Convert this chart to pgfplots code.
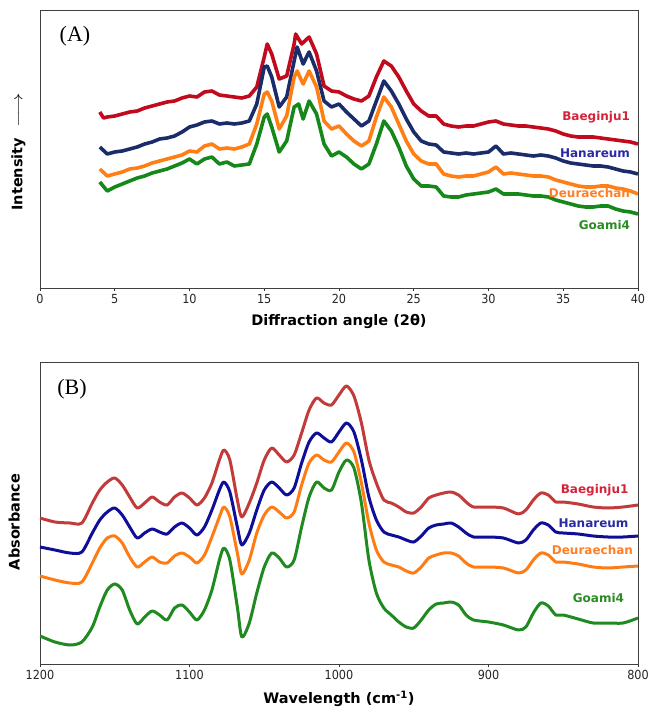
\documentclass[border=0pt]{standalone}
\usepackage{fontspec}
\setmainfont{DejaVu Sans}
\newfontfamily\condfont{DejaVu Sans Condensed}
\newfontfamily\timesfont{Liberation Serif}
\usepackage{pgfplots}
\pgfplotsset{compat=1.18}

\definecolor{redA}{HTML}{C20A1E}
\definecolor{blueA}{HTML}{1B2C6A}
\definecolor{orgA}{HTML}{FF7F15}
\definecolor{grnA}{HTML}{16881A}
\definecolor{redB}{HTML}{C23A3A}
\definecolor{blueB}{HTML}{0E0E98}
\definecolor{orgB}{HTML}{FF7C15}
\definecolor{grnB}{HTML}{1F8A1F}
\definecolor{redL}{HTML}{D4243A}
\definecolor{blueL}{HTML}{2A2AA6}
\definecolor{orgL}{HTML}{FF7F27}
\definecolor{grnL}{HTML}{2A8C22}

\pgfplotsset{
  panel/.style={
    scale only axis, width=598pt,
    axis line style={draw=black!75, line width=0.8pt},
    ytick=\empty, xtick pos=bottom, tick align=outside,
    major tick length=3pt, tick style={black!80, line width=0.8pt},
    tick label style={font=\condfont\fontsize{12.5}{14}\selectfont, text=black!85},
    /pgf/number format/assume math mode=true,
    /pgf/number format/set thousands separator={},
    label style={font=\fontsize{14.5}{16}\selectfont\bfseries},
    xlabel style={yshift=-4pt},
  },
}
\tikzset{lblA/.style={font=\fontsize{12}{14}\selectfont\bfseries, anchor=east}}

\begin{document}
\begin{tikzpicture}
% ---------------- (A) XRD ----------------
\begin{axis}[panel, height=278pt, at={(0,0)}, anchor=south west,
  xmin=0, xmax=40, ymin=0, ymax=278, xtick={0,5,...,40},
  xlabel={Diffraction angle (2θ)},
  ylabel={Intensity\hspace{10pt}\scalebox{1.5}[1.1]{$\longrightarrow$}},
  ylabel style={at={(axis description cs:-0.036,0.49)}, anchor=center},
  every axis plot/.append style={line width=3.6pt, line join=round}]
\addplot[redA] coordinates {(4,176)(4.25,170)(4.5,171)(5,172)(5.5,174)(6,176)(6.5,177)(7,180)(7.5,182)(8,184)(8.5,186)(9,187)(9.5,190)(10,192)(10.5,191)(11,196)(11.5,197)(12,193)(12.5,192)(13,191)(13.5,190)(14,192)(14.5,201)(15,231)(15.2,244)(15.5,234)(16,209)(16.5,212)(17,244)(17.1,254)(17.5,244)(18,251)(18.5,234)(19,202)(19.5,197)(20,196)(20.5,192)(21,189)(21.5,187)(22,192)(22.5,211)(23,227)(23.5,222)(24,211)(24.5,197)(25,184)(25.5,177)(26,172)(26.5,172)(27,164)(27.5,162)(28,161)(28.5,162)(29,162)(29.5,164)(30,166)(30.5,167)(31,164)(31.5,163)(32,162)(32.5,162)(33,161)(33.5,160)(34,159)(34.5,157)(35,154)(35.5,152)(36,151)(36.5,151)(37,151)(37.5,150)(38,149)(38.5,148)(39,147)(39.5,146)(40,144)};
\addplot[blueA] coordinates {(4,141)(4.5,134)(5,136)(5.5,137)(6,139)(6.5,141)(7,144)(7.5,146)(8,149)(8.5,150)(9,152)(9.5,156)(10,161)(10.5,163)(11,166)(11.5,167)(12,164)(12.5,165)(13,164)(13.5,165)(14,167)(14.5,184)(15,221)(15.2,222)(15.5,211)(16,181)(16.5,191)(17,227)(17.2,241)(17.6,224)(18,236)(18.5,217)(19,187)(19.5,181)(20,184)(20.5,176)(21,169)(21.5,162)(22,167)(22.5,187)(23,207)(23.5,197)(24,184)(24.5,169)(25,156)(25.5,147)(26,144)(26.5,143)(27,136)(27.5,135)(28,134)(28.5,135)(29,134)(29.5,135)(30,136)(30.5,142)(31,134)(31.5,135)(32,134)(32.5,133)(33,132)(33.5,133)(34,132)(34.5,130)(35,127)(35.5,125)(36,124)(36.5,123)(37,122)(37.5,122)(38,121)(38.5,119)(39,117)(39.5,116)(40,114)};
\addplot[orgA] coordinates {(4,119)(4.5,112)(5,114)(5.5,116)(6,119)(6.5,120)(7,122)(7.5,125)(8,127)(8.5,129)(9,131)(9.5,133)(10,137)(10.5,136)(11,142)(11.5,144)(12,139)(12.5,140)(13,139)(13.5,141)(14,144)(14.5,164)(15,194)(15.2,196)(15.5,187)(16,159)(16.5,172)(17,211)(17.2,217)(17.6,204)(18,217)(18.5,201)(19,167)(19.5,159)(20,162)(20.5,154)(21,147)(21.5,142)(22,147)(22.5,171)(23,191)(23.5,181)(24,164)(24.5,147)(25,134)(25.5,127)(26,124)(26.5,124)(27,114)(27.5,112)(28,111)(28.5,112)(29,112)(29.5,114)(30,116)(30.5,121)(31,114)(31.5,115)(32,114)(32.5,113)(33,112)(33.5,112)(34,111)(34.5,108)(35,106)(35.5,104)(36,102)(36.5,101)(37,101)(37.5,102)(38,102)(38.5,100)(39,99)(39.5,97)(40,94)};
\addplot[grnA] coordinates {(4,106)(4.5,97)(5,101)(5.5,104)(6,107)(6.5,110)(7,112)(7.5,115)(8,117)(8.5,119)(9,122)(9.5,125)(10,129)(10.5,124)(11,129)(11.5,131)(12,124)(12.5,126)(13,122)(13.5,123)(14,124)(14.5,144)(15,171)(15.2,174)(15.5,161)(16,136)(16.5,147)(17,181)(17.3,184)(17.6,169)(18,187)(18.5,174)(19,144)(19.5,132)(20,136)(20.5,131)(21,124)(21.5,119)(22,124)(22.5,144)(23,167)(23.5,157)(24,141)(24.5,122)(25,109)(25.5,102)(26,102)(26.5,101)(27,92)(27.5,91)(28,91)(28.5,93)(29,94)(29.5,95)(30,96)(30.5,99)(31,94)(31.5,94)(32,94)(32.5,93)(33,92)(33.5,92)(34,91)(34.5,88)(35,86)(35.5,84)(36,82)(36.5,81)(37,81)(37.5,82)(38,82)(38.5,79)(39,77)(39.5,76)(40,74)};
\node[lblA, text=redL] at (axis cs:39.7,171) {Baeginju1};
\node[lblA, text=blueL] at (axis cs:39.7,135) {Hanareum};
\node[lblA, text=orgL] at (axis cs:39.7,95) {Deuraechan};
\node[lblA, text=grnL] at (axis cs:39.7,63) {Goami4};
\node[font=\timesfont\fontsize{22}{24}\selectfont] at (axis cs:2.34,252) {(A)};
\end{axis}

% ---------------- (B) FTIR ----------------
\begin{axis}[panel, height=302pt, at={(0,-376pt)}, anchor=south west,
  x dir=reverse, xmin=800, xmax=1200, ymin=0, ymax=302,
  xtick={800,900,...,1200},
  xlabel={Wavelength (cm\textsuperscript{-1})},
  ylabel={Absorbance},
  ylabel style={at={(axis description cs:-0.043,0.47)}, anchor=center},
  every axis plot/.append style={line width=3pt, smooth, tension=0.45, line join=round}]
\addplot[redB] coordinates {(1200,146)(1190,142)(1180,141)(1172,141)(1165,161)(1160,174)(1155,182)(1150,186)(1145,179)(1140,167)(1135,156)(1130,161)(1125,167)(1120,162)(1115,159)(1110,167)(1105,171)(1100,166)(1095,159)(1090,166)(1085,181)(1080,204)(1077,214)(1073,204)(1068,164)(1065,147)(1060,161)(1055,181)(1050,204)(1045,216)(1040,209)(1035,202)(1030,209)(1025,231)(1020,254)(1015,266)(1010,261)(1005,259)(1000,269)(995,278)(990,268)(985,241)(980,204)(975,181)(970,164)(965,161)(960,157)(955,152)(950,151)(945,157)(940,166)(935,169)(930,171)(925,172)(920,169)(915,162)(910,157)(900,157)(890,156)(880,150)(875,154)(870,164)(865,171)(860,169)(855,162)(850,162)(840,160)(830,157)(820,156)(810,157)(800,159)};
\addplot[blueB] coordinates {(1200,117)(1190,114)(1180,111)(1172,112)(1165,131)(1160,144)(1155,152)(1150,156)(1145,149)(1140,137)(1135,126)(1130,131)(1125,135)(1120,132)(1115,130)(1110,137)(1105,141)(1100,136)(1095,129)(1090,137)(1085,154)(1080,174)(1077,182)(1073,172)(1068,137)(1065,119)(1060,131)(1055,154)(1050,174)(1045,182)(1040,176)(1035,169)(1030,176)(1025,201)(1020,222)(1015,231)(1010,226)(1005,222)(1000,232)(995,241)(990,232)(985,204)(980,167)(975,144)(970,132)(965,129)(960,127)(955,124)(950,122)(945,128)(940,136)(935,139)(930,140)(925,141)(920,137)(915,131)(910,127)(900,127)(890,126)(880,121)(875,124)(870,134)(865,141)(860,139)(855,132)(850,131)(840,130)(830,128)(820,127)(810,127)(800,128)};
\addplot[orgB] coordinates {(1200,88)(1190,84)(1180,81)(1172,82)(1165,101)(1160,116)(1155,126)(1150,128)(1145,121)(1140,107)(1135,97)(1130,102)(1125,107)(1120,102)(1115,101)(1110,108)(1105,111)(1100,107)(1095,101)(1090,109)(1085,127)(1080,147)(1077,157)(1073,147)(1068,111)(1065,90)(1060,104)(1055,131)(1050,149)(1045,157)(1040,152)(1035,146)(1030,152)(1025,179)(1020,201)(1015,209)(1010,204)(1005,202)(1000,212)(995,221)(990,212)(985,181)(980,141)(975,114)(970,102)(965,99)(960,97)(955,93)(950,91)(945,97)(940,106)(935,109)(930,111)(925,111)(920,108)(915,101)(910,97)(900,97)(890,96)(880,91)(875,94)(870,104)(865,111)(860,109)(855,102)(850,102)(840,100)(830,97)(820,96)(810,97)(800,98)};
\addplot[grnB] coordinates {(1200,28)(1190,22)(1180,19)(1172,22)(1165,37)(1160,57)(1155,74)(1150,80)(1145,74)(1140,54)(1135,40)(1130,47)(1125,53)(1120,49)(1115,44)(1110,56)(1105,59)(1100,52)(1095,44)(1090,54)(1085,74)(1080,104)(1077,116)(1073,104)(1068,57)(1065,27)(1060,41)(1055,71)(1050,97)(1045,111)(1040,106)(1035,97)(1030,104)(1025,137)(1020,167)(1015,182)(1010,176)(1005,174)(1000,192)(995,204)(990,196)(985,161)(980,104)(975,71)(970,56)(965,49)(960,42)(955,37)(950,36)(945,44)(940,54)(935,60)(930,61)(925,62)(920,59)(915,49)(910,44)(900,42)(890,39)(880,34)(875,37)(870,51)(865,61)(860,58)(855,49)(850,49)(840,45)(830,41)(820,41)(810,41)(800,46)};
\node[lblA, text=redL] at (axis cs:804,174) {Baeginju1};
\node[lblA, text=blueL] at (axis cs:804,141) {Hanareum};
\node[lblA, text=orgL] at (axis cs:801,114) {Deuraechan};
\node[lblA, text=grnL] at (axis cs:807,66) {Goami4};
\node[font=\timesfont\fontsize{22}{24}\selectfont] at (axis cs:1178.6,275) {(B)};
\end{axis}
\pgfresetboundingbox
\path (-40pt,-430pt) rectangle (613pt,288pt);
\end{tikzpicture}
\end{document}
